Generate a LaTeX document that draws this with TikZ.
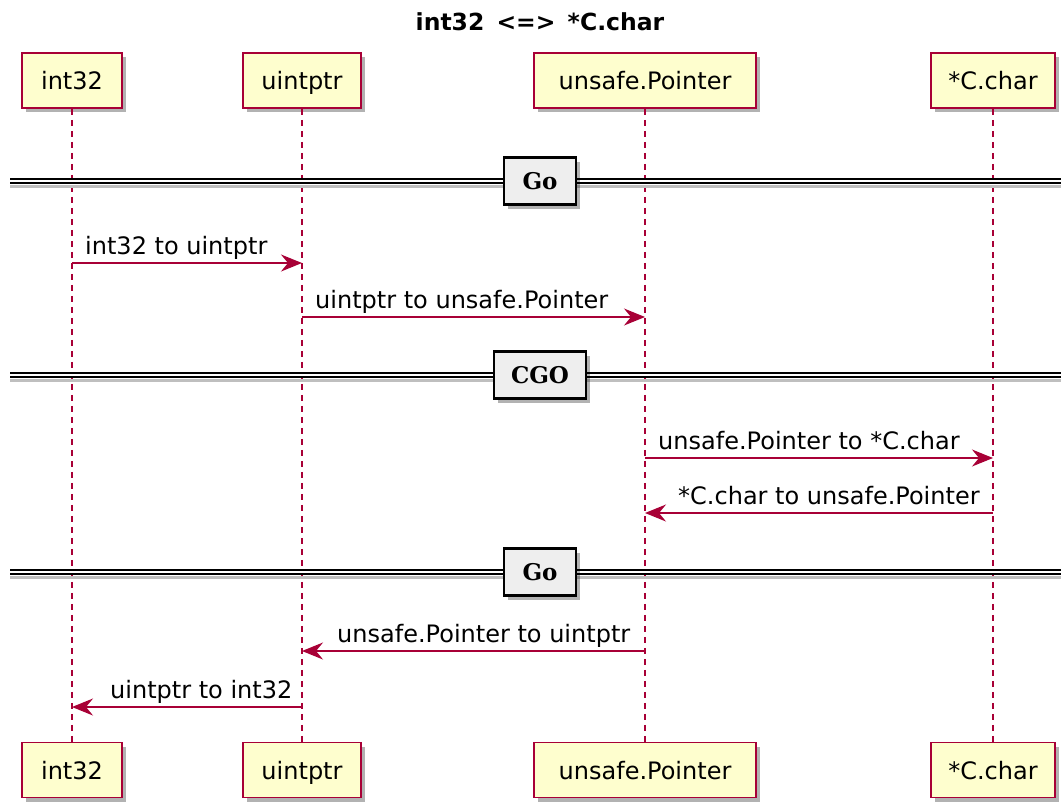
\documentclass[tikz,border=0pt]{standalone}
\usepackage{fontspec}
\setmainfont{DejaVu Sans}
\newfontfamily\divfont{DejaVu Serif}
\usetikzlibrary{arrows.meta,shadows}
\definecolor{umlred}{HTML}{A80036}
\definecolor{umlfill}{HTML}{FEFECE}
\definecolor{divfill}{HTML}{EEEEEE}
\tikzset{
  part/.style={draw=umlred, line width=1.8pt, fill=umlfill, minimum height=55pt,
    inner xsep=0pt, text height=24pt, text depth=6pt, font=\fontsize{24}{27}\selectfont,
    drop shadow={shadow xshift=4pt, shadow yshift=-4pt, opacity=0.3, fill=black}},
  life/.style={draw=umlred, line width=1.1pt, dash pattern=on 6pt off 5pt},
  msg/.style={draw=umlred, line width=1.3pt, -{Stealth[length=21pt,width=17pt,inset=7pt]}},
  lbl/.style={anchor=base west, inner sep=0pt, font=\fontsize{24}{27}\selectfont},
  divline/.style={draw=black, line width=1.7pt, double=white, double distance=2.6pt},
  divshadow/.style={draw=black!25, line width=3pt},
  divbox/.style={draw=black, line width=2.4pt, fill=divfill, minimum height=47pt,
    font=\divfont\bfseries\fontsize{23}{25}\selectfont,
    drop shadow={shadow xshift=4pt, shadow yshift=-4pt, opacity=0.3, fill=black}},
  title/.style={font=\bfseries\fontsize{23.5}{26}\selectfont, inner sep=0pt}
}
\begin{document}
\begin{tikzpicture}[x=1pt,y=-1pt]
\useasboundingbox (0,0) rectangle (1061,804);
\node[title] (ttl) at (540,22) {int32 \,<=>\, *C.char};

% participants top
\node[part, minimum width=100pt] (aT) at (72,80.5) {int32};
\node[part, minimum width=118pt] (bT) at (302,80.5) {uintptr};
\node[part, minimum width=222pt] (cT) at (645,80.5) {unsafe.Pointer};
\node[part, minimum width=124pt] (dT) at (993,80.5) {*C.char};
% participants bottom
\node[part, minimum width=100pt] (aB) at (72,770) {int32};
\node[part, minimum width=118pt] (bB) at (302,770) {uintptr};
\node[part, minimum width=222pt] (cB) at (645,770) {unsafe.Pointer};
\node[part, minimum width=124pt] (dB) at (993,770) {*C.char};

% lifelines
\draw[life] (aT.south) -- (aB.north);
\draw[life] (bT.south) -- (bB.north);
\draw[life] (cT.south) -- (cB.north);
\draw[life] (dT.south) -- (dB.north);

% row coordinates
\coordinate (d1) at (0,181);
\coordinate (d2) at (0,375);
\coordinate (d3) at (0,572);
\coordinate (r1) at (0,263);
\coordinate (r2) at (0,317);
\coordinate (r3) at (0,458);
\coordinate (r4) at (0,513);
\coordinate (r5) at (0,651);
\coordinate (r6) at (0,707);
\coordinate (dl) at (10,0);
\coordinate (dr) at (1061,0);

% dividers
\foreach \d/\t/\w/\n in {d1/Go/72/g1, d2/CGO/92/g2, d3/Go/72/g3}{
  \draw[divshadow] ([yshift=-5pt]dl |- \d) -- ([yshift=-5pt]dr |- \d);
  \draw[divline] (dl |- \d) -- (dr |- \d);
  \node[divbox, minimum width=\w pt] (\n) at (540,0 |- \d) {\t};
}

% messages
\draw[msg] (aT |- r1) -- (bT |- r1);
\node[lbl] (l1) at ([xshift=13pt,yshift=9pt]aT |- r1) {int32 to uintptr};
\draw[msg] (bT |- r2) -- (cT |- r2);
\node[lbl] (l2) at ([xshift=13pt,yshift=9pt]bT |- r2) {uintptr to unsafe.Pointer};
\draw[msg] (cT |- r3) -- (dT |- r3);
\node[lbl] (l3) at ([xshift=13pt,yshift=9pt]cT |- r3) {unsafe.Pointer to *C.char};
\draw[msg] (dT |- r4) -- (cT |- r4);
\node[lbl] (l4) at ([xshift=33pt,yshift=9pt]cT |- r4) {*C.char to unsafe.Pointer};
\draw[msg] (cT |- r5) -- (bT |- r5);
\node[lbl] (l5) at ([xshift=35pt,yshift=9pt]bT |- r5) {unsafe.Pointer to uintptr};
\draw[msg] (bT |- r6) -- (aT |- r6);
\node[lbl] (l6) at ([xshift=38pt,yshift=9pt]aT |- r6) {uintptr to int32};
\end{tikzpicture}
\end{document}
